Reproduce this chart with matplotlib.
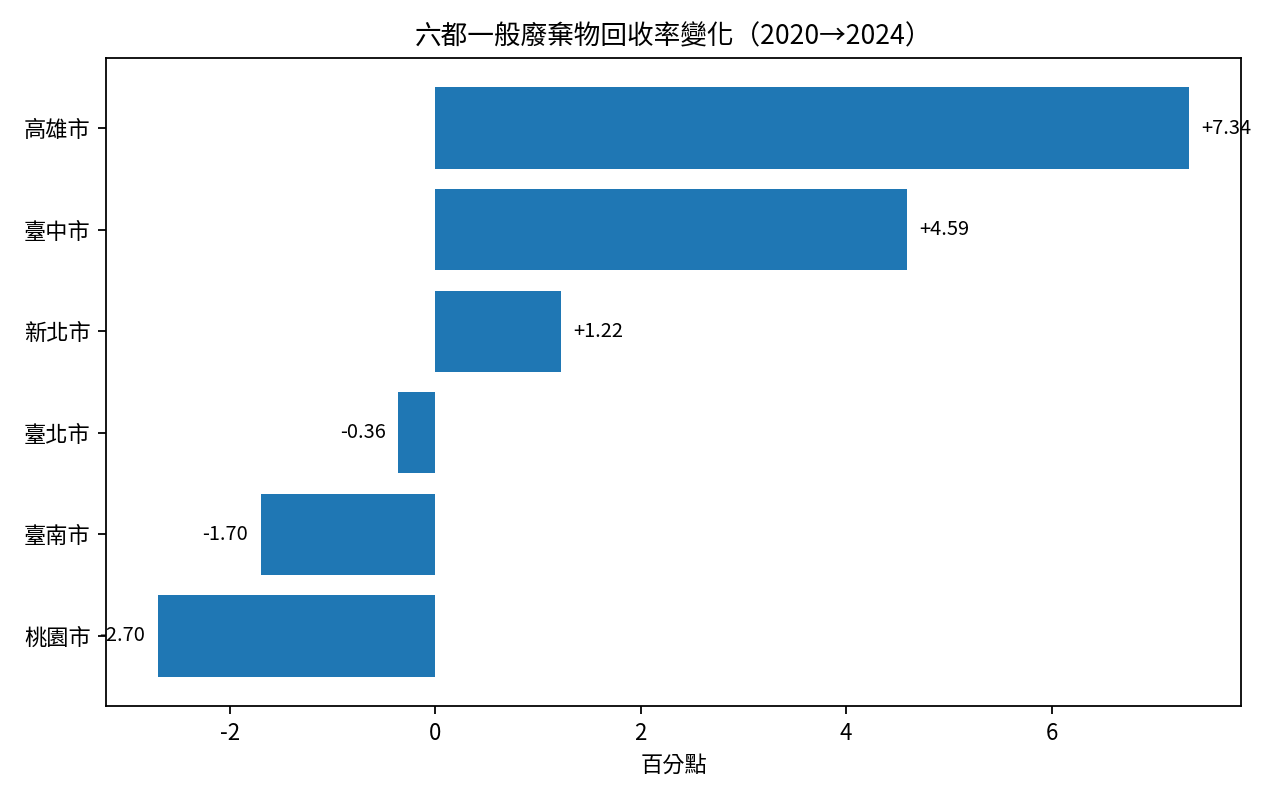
import matplotlib
matplotlib.use('Agg')
import matplotlib.pyplot as plt

plt.rcParams['font.family'] = ['Noto Sans CJK TC', 'DejaVu Sans']
plt.rcParams['axes.unicode_minus'] = False

# 2020 -> 2024 change in recycling rate (percentage points), sorted ascending
cities = ['桃園市', '臺南市', '臺北市', '新北市', '臺中市', '高雄市']
changes = [-2.70, -1.70, -0.36, 1.22, 4.59, 7.34]

fig, ax = plt.subplots(figsize=(8, 5), dpi=160)
ax.barh(cities, changes, color='#1f77b4')

for i, v in enumerate(changes):
    if v >= 0:
        ax.text(v + 0.12, i, f'+{v:.2f}', va='center', ha='left', fontsize=9)
    else:
        ax.text(v - 0.12, i, f'{v:.2f}', va='center', ha='right', fontsize=9)

ax.set_title('六都一般廢棄物回收率變化（2020→2024）')
ax.set_xlabel('百分點')

fig.subplots_adjust(left=0.083, right=0.9695, top=0.9275, bottom=0.1175)
fig.savefig('out.png')
